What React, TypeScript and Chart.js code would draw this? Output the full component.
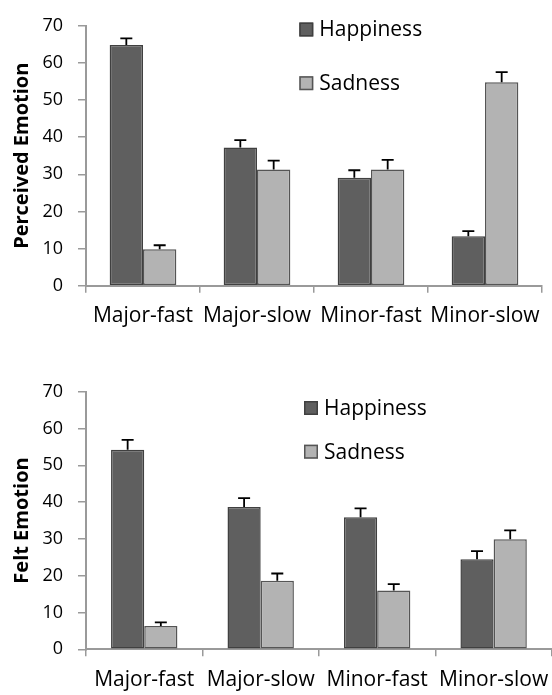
import React, { useEffect, useRef } from "react";
import { Chart, registerables } from "chart.js";

Chart.register(...registerables);

const categories = ["Major-fast", "Major-slow", "Minor-fast", "Minor-slow"];
const seriesNames = ["Happiness", "Sadness"];
const perceivedHappiness = [64.8, 37.2, 29.1, 13.3];
const perceivedHappinessErr = [1.8, 2.0, 2.0, 1.4];
const perceivedSadness = [9.8, 31.3, 31.3, 54.8];
const perceivedSadnessErr = [1.1, 2.4, 2.6, 2.7];
const feltHappiness = [54.2, 38.7, 35.9, 24.5];
const feltHappinessErr = [2.7, 2.4, 2.4, 2.2];
const feltSadness = [6.3, 18.6, 16.0, 29.9];
const feltSadnessErr = [1.0, 2.0, 1.7, 2.4];
const yMin = 0;
const yMax = 70;
const yStep = 10;

const FONT = "'Open Sans', sans-serif";
const HAPPY_FILL = "#5f5f5f";
const HAPPY_BORDER = "#404040";
const SAD_FILL = "#b3b3b3";
const SAD_BORDER = "#555555";
const AXIS = "#9a9a9a";

const errorBarPlugin = {
  id: "errorBars",
  afterDatasetsDraw(chart: any) {
    const ctx = chart.ctx;
    const yScale = chart.scales.y;
    chart.data.datasets.forEach((ds: any, i: number) => {
      const meta = chart.getDatasetMeta(i);
      const errs = ds.errors || [];
      meta.data.forEach((bar: any, j: number) => {
        const v = ds.data[j];
        const top = yScale.getPixelForValue(v + errs[j]);
        ctx.save();
        ctx.strokeStyle = "#000";
        ctx.lineWidth = 1.8;
        ctx.beginPath();
        ctx.moveTo(bar.x, bar.y);
        ctx.lineTo(bar.x, top);
        ctx.moveTo(bar.x - 6, top);
        ctx.lineTo(bar.x + 6, top);
        ctx.stroke();
        ctx.restore();
      });
    });
  },
};

const legendPlugin = {
  id: "boxLegend",
  afterDraw(chart: any, _args: any, opts: any) {
    const { ctx, chartArea } = chart;
    chart.data.datasets.forEach((ds: any, i: number) => {
      const x = chartArea.left + opts.dx;
      const cy = chartArea.top + opts.dy + i * opts.gap;
      ctx.save();
      ctx.fillStyle = ds.backgroundColor;
      ctx.fillRect(x, cy - 7, 14, 14);
      ctx.strokeStyle = ds.borderColor;
      ctx.lineWidth = 1.5;
      ctx.strokeRect(x + 0.75, cy - 6.25, 12.5, 12.5);
      ctx.fillStyle = "#000";
      ctx.font = `21px ${FONT}`;
      ctx.textBaseline = "middle";
      ctx.textAlign = "left";
      ctx.fillText(ds.label, x + 20, cy + 1);
      ctx.restore();
    });
  },
};

type PanelProps = {
  width: number;
  height: number;
  hap: number[];
  hapErr: number[];
  sad: number[];
  sadErr: number[];
  title: string;
  padTop: number;
  padRight: number;
  xHeight: number;
  catPct: number;
  legend: { dx: number; dy: number; gap: number };
};

function Panel(p: PanelProps) {
  const ref = useRef<HTMLCanvasElement | null>(null);
  useEffect(() => {
    if (!ref.current) return;
    const chart = new Chart(ref.current, {
      type: "bar",
      data: {
        labels: categories,
        datasets: [
          {
            label: seriesNames[0],
            data: p.hap,
            errors: p.hapErr,
            backgroundColor: HAPPY_FILL,
            borderColor: HAPPY_BORDER,
            borderWidth: 1.5,
            borderSkipped: false,
          } as any,
          {
            label: seriesNames[1],
            data: p.sad,
            errors: p.sadErr,
            backgroundColor: SAD_FILL,
            borderColor: SAD_BORDER,
            borderWidth: 1.5,
            borderSkipped: false,
          } as any,
        ],
      },
      options: {
        responsive: false,
        animation: false,
        devicePixelRatio: 1,
        layout: { padding: { top: p.padTop, right: p.padRight, left: 0, bottom: 0 } },
        datasets: { bar: { categoryPercentage: p.catPct, barPercentage: 1 } },
        plugins: {
          legend: { display: false },
          tooltip: { enabled: false },
          boxLegend: p.legend,
        } as any,
        scales: {
          x: {
            grid: {
              offset: true,
              drawOnChartArea: false,
              drawTicks: true,
              tickLength: 7,
              color: AXIS,
              lineWidth: 1.5,
            },
            border: { display: true, color: AXIS, width: 2 },
            ticks: {
              color: "#000",
              font: { family: FONT, size: 21 },
              maxRotation: 0,
              minRotation: 0,
              autoSkip: false,
              padding: 11,
            },
            afterFit: (s: any) => {
              s.height = p.xHeight;
            },
          },
          y: {
            min: yMin,
            max: yMax,
            grid: {
              drawOnChartArea: false,
              drawTicks: true,
              tickLength: 8,
              color: AXIS,
              lineWidth: 1.5,
            },
            border: { display: true, color: AXIS, width: 2 },
            ticks: {
              stepSize: yStep,
              color: "#000",
              font: { family: FONT, size: 18 },
              padding: 15,
            },
            title: {
              display: true,
              text: p.title,
              color: "#000",
              font: { family: FONT, size: 20, weight: "bold" },
              padding: { top: 10, bottom: 0 },
            },
            afterFit: (s: any) => {
              s.width = 86;
            },
          },
        },
      },
      plugins: [errorBarPlugin, legendPlugin],
    } as any);
    return () => chart.destroy();
  }, []);
  return (
    <canvas
      ref={ref}
      width={p.width}
      height={p.height}
      style={{ display: "block", width: p.width, height: p.height }}
    />
  );
}

export default function App() {
  return (
    <div
      style={{
        position: "absolute",
        left: 0,
        top: 0,
        width: 552,
        height: 695,
        overflow: "hidden",
        background: "#fff",
      }}
    >
      <Panel
        width={552}
        height={345}
        hap={perceivedHappiness}
        hapErr={perceivedHappinessErr}
        sad={perceivedSadness}
        sadErr={perceivedSadnessErr}
        title="Perceived Emotion"
        padTop={19.3}
        padRight={10}
        xHeight={59.3}
        catPct={0.585}
        legend={{ dx: 213.3, dy: 3.7, gap: 53.7 }}
      />
      <Panel
        width={560}
        height={350}
        hap={feltHappiness}
        hapErr={feltHappinessErr}
        sad={feltSadness}
        sadErr={feltSadnessErr}
        title="Felt Emotion"
        padTop={46.7}
        padRight={6}
        xHeight={45.7}
        catPct={0.57}
        legend={{ dx: 218, dy: 16.3, gap: 43.7 }}
      />
    </div>
  );
}
